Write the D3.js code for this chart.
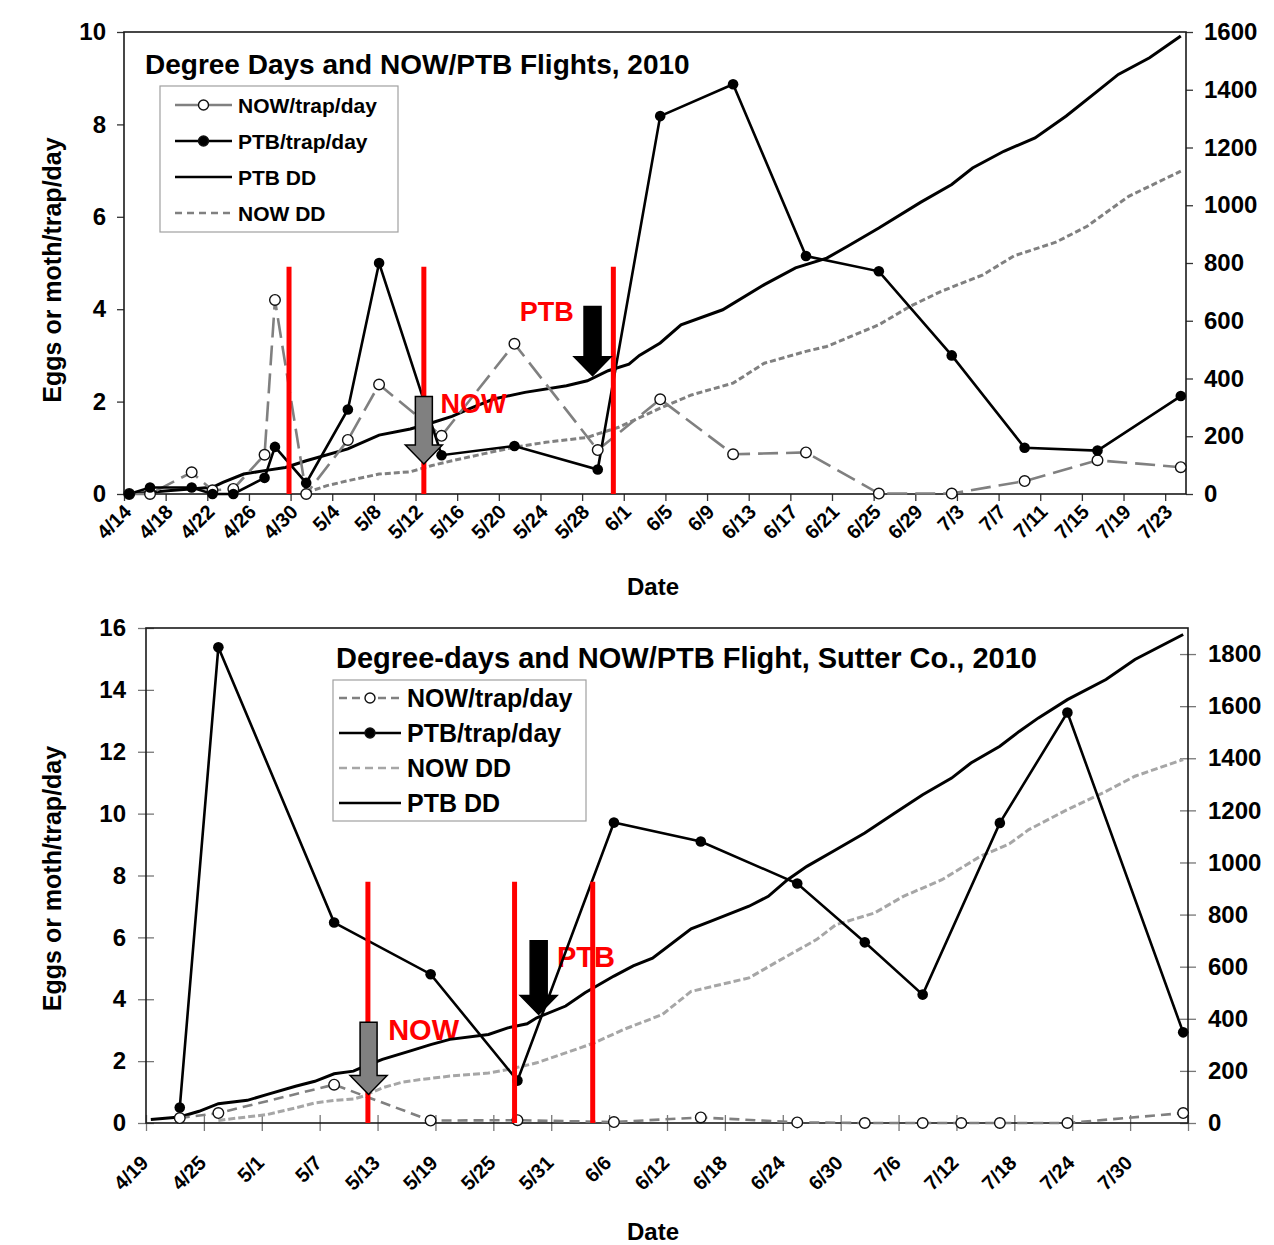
<!DOCTYPE html>
<html lang="en">
<head>
  <meta charset="utf-8" />
  <title>Degree days and NOW/PTB flights, 2010</title>
  <script src="https://cdn.jsdelivr.net/npm/d3@7"></script>
  <style>
    body { margin: 0; background: #fff; }
    svg { display: block; }
    text { font-family: "Liberation Sans", Arial, sans-serif; font-weight: bold; fill: #000; }
  </style>
</head>
<body>
<script>
  // ---- top chart: Degree Days and NOW/PTB Flights, 2010 (day 0 = 4/14) ----
  const topTickLabels = ["4/14","4/18","4/22","4/26","4/30","5/4","5/8","5/12","5/16","5/20","5/24","5/28",
    "6/1","6/5","6/9","6/13","6/17","6/21","6/25","6/29","7/3","7/7","7/11","7/15","7/19","7/23"];
  const topTrapDays = [0, 2, 6, 8, 10, 13, 14, 17, 21, 24, 30, 37, 45, 51, 58, 65, 72, 79, 86, 93, 101];
  const topNowTrap  = [0, 0, 0.47, 0.08, 0.11, 0.85, 4.2, 0, 1.17, 2.37, 1.26, 3.25, 0.95, 2.05, 0.86, 0.9, 0.01, 0.01, 0.28, 0.73, 0.58];
  const topPtbTrap  = [0, 0.14, 0.14, 0, 0, 0.35, 1.02, 0.24, 1.83, 5.0, 0.84, 1.04, 0.53, 8.18, 8.87, 5.15, 4.82, 3.0, 1.0, 0.94, 2.12];
  const topPtbDDDays = [0, 4, 8, 9, 11, 13, 15, 17, 21, 24, 27, 29, 31, 33, 35, 38, 42, 44, 46, 48, 49, 51, 53, 57,
    61, 64, 67, 69, 72, 76, 79, 81, 84, 87, 90, 93, 95, 98, 101];
  const topPtbDD = [0, 12, 23, 40, 69, 81, 92, 115, 156, 204, 225, 246, 269, 300, 329, 352, 375, 392, 427, 450, 480, 523, 586, 638,
    725, 783, 817, 858, 921, 1010, 1072, 1129, 1187, 1233, 1309, 1395, 1453, 1511, 1586];
  const topNowDDDays = [17, 19, 21, 24, 27, 29, 31, 34, 37, 40, 44, 45, 47, 48, 51, 54, 58, 61, 65, 67, 72, 75, 78, 82, 85, 89, 92, 94, 96, 101];
  const topNowDD = [5, 29, 46, 69, 77, 98, 115, 139, 162, 179, 196, 208, 231, 248, 297, 343, 384, 453, 494, 511, 586, 650, 702, 759, 825, 872, 927, 979, 1031, 1118];
  const topFlightLines = [15.85, 28.8, 47.0];

  // ---- bottom chart: Sutter Co., 2010 (day 0 = 4/19) ----
  const botTickLabels = ["4/19","4/25","5/1","5/7","5/13","5/19","5/25","5/31","6/6","6/12","6/18","6/24",
    "6/30","7/6","7/12","7/18","7/24","7/30"];
  const botPtbDays = [3, 7, 19, 29, 38, 48, 57, 67, 74, 80, 88, 95, 107];
  const botPtbTrap = [0.5, 15.38, 6.48, 4.81, 1.37, 9.71, 9.1, 7.74, 5.84, 4.15, 9.7, 13.27, 2.93];
  const botNowDays = [3, 7, 19, 29, 38, 48, 57, 67, 74, 80, 84, 88, 95, 107];
  const botNowTrap = [0.16, 0.32, 1.24, 0.08, 0.09, 0.03, 0.18, 0.02, 0, 0, 0, 0, 0, 0.32];
  const botPtbDDDays = [0, 3, 5, 7, 10, 12, 15, 17, 19, 21, 22, 24, 27, 29, 31, 35, 37, 39, 40, 43, 45, 48, 50, 52,
    56, 58, 62, 64, 66, 68, 71, 74, 77, 80, 83, 85, 88, 90, 92, 95, 99, 102, 107];
  const botPtbDD = [13, 23, 45, 74, 87, 109, 141, 160, 189, 199, 215, 244, 278, 301, 321, 340, 365, 381, 404, 449, 500, 564, 603, 633,
    745, 774, 832, 870, 934, 985, 1049, 1113, 1187, 1260, 1324, 1382, 1446, 1503, 1555, 1625, 1702, 1779, 1875];
  const botNowDDDays = [7, 9, 12, 15, 17, 19, 21, 22, 24, 26, 28, 31, 35, 37, 40, 43, 46, 49, 53, 56, 62, 65, 69, 71,
    75, 78, 82, 86, 89, 91, 95, 99, 102, 107];
  const botNowDD = [10, 19, 32, 58, 77, 87, 92, 103, 135, 156, 167, 180, 192, 205, 231, 269, 308, 359, 416, 505, 557, 621, 704, 761,
    806, 870, 934, 1024, 1072, 1126, 1203, 1273, 1331, 1395];
  const botFlightLines = [23.0, 38.2, 46.3];

  const zip = (a, b) => a.map((d, i) => [d, b[i]]);

  const svg = d3.select("body").append("svg")
      .attr("width", 1274)
      .attr("height", 1245);

  function arrowPath(cx, yTop, yTip, shaftW, headW, headL) {
    const h = yTip - headL;
    return `M${cx - shaftW/2},${yTop}L${cx + shaftW/2},${yTop}L${cx + shaftW/2},${h}L${cx + headW/2},${h}` +
           `L${cx},${yTip}L${cx - headW/2},${h}L${cx - shaftW/2},${h}Z`;
  }

  function drawChart(c) {
    const g = svg.append("g");
    const x = d3.scaleLinear([0, c.nDays], [c.left, c.right]);
    const yL = d3.scaleLinear([0, c.yMax], [c.bottom, c.top]);
    const yR = d3.scaleLinear([0, c.ddMax], [c.bottom, c.top]);
    const px = d => x(d + 0.5);   // points sit in the middle of their day

    // annotations that sit under the data
    const notes = g.append("g");

    // axes
    const left = g.append("g")
        .attr("transform", `translate(${c.left},0)`)
        .call(d3.axisLeft(yL).tickValues(d3.range(0, c.yMax + 1, c.yStep)).tickSize(c.tickOut).tickPadding(c.padL)
          .tickFormat(d3.format("d")));
    const right = g.append("g")
        .attr("transform", `translate(${c.right},0)`)
        .call(d3.axisRight(yR).tickValues(d3.range(0, c.ddTop + 1, 200)).tickSize(c.tickOut).tickPadding(c.padR)
          .tickFormat(d3.format("d")));
    const bottom = g.append("g")
        .attr("transform", `translate(0,${c.bottom})`)
        .call(d3.axisBottom(x).tickValues(d3.range(0, c.nDays + 1, c.tickStep)).tickSize(c.tickOut)
          .tickFormat((d, i) => c.tickLabels[i] || ""));

    [left, right, bottom].forEach(a => {
      a.select(".domain").remove();
      a.selectAll(".tick line").attr("stroke", c.tickColor).attr("stroke-width", 1.3);
      a.selectAll("text").style("font-size", c.tickFont + "px").attr("font-family", null);
    });
    if (c.tickIn) {
      left.selectAll(".tick line").attr("x1", c.tickIn);
      right.selectAll(".tick line").attr("x1", -c.tickIn);
      bottom.selectAll(".tick line").attr("y1", -c.tickIn);
    }
    bottom.selectAll("text")
        .style("font-size", c.xFont + "px")
        .attr("x", 0).attr("y", 0).attr("dy", "0.71em")
        .attr("text-anchor", "end")
        .attr("transform", `translate(${c.xLabDx},${c.xLabDy}) rotate(-45)`);

    g.append("rect")
        .attr("x", c.left).attr("y", c.top)
        .attr("width", c.right - c.left).attr("height", c.bottom - c.top)
        .attr("fill", "none").attr("stroke", "#1a1a1a").attr("stroke-width", 1.6);

    // titles
    g.append("text")
        .attr("x", c.titleX).attr("y", c.titleY)
        .style("font-size", c.titleFont + "px")
        .text(c.title);
    g.append("text")
        .attr("transform", `translate(52,${(c.top + c.bottom) / 2 + c.yTitleShift}) rotate(-90)`)
        .attr("text-anchor", "middle").attr("dy", "0.35em")
        .style("font-size", "25px")
        .text("Eggs or moth/trap/day");
    g.append("text")
        .attr("x", 653).attr("y", c.dateY)
        .attr("text-anchor", "middle")
        .style("font-size", "24px")
        .text("Date");

    // series
    const lineR = d3.line().x(d => px(d[0])).y(d => yR(d[1]));
    const lineL = d3.line().x(d => px(d[0])).y(d => yL(d[1]));

    g.append("path").datum(zip(c.nowDDDays, c.nowDD)).attr("d", lineR)
        .attr("fill", "none").attr("stroke", c.nowDDColor).attr("stroke-width", 3)
        .attr("stroke-dasharray", c.nowDDDash);
    g.append("path").datum(zip(c.ptbDDDays, c.ptbDD)).attr("d", lineR)
        .attr("fill", "none").attr("stroke", "#000").attr("stroke-width", 3);

    const nowPts = zip(c.nowDays, c.nowTrap);
    const ptbPts = zip(c.ptbDays, c.ptbTrap);
    g.append("path").datum(nowPts).attr("d", lineL)
        .attr("fill", "none").attr("stroke", "#808080").attr("stroke-width", 2.6)
        .attr("stroke-dasharray", c.nowTrapDash);
    g.append("path").datum(ptbPts).attr("d", lineL)
        .attr("fill", "none").attr("stroke", "#000").attr("stroke-width", 2.6);
    g.append("g").selectAll("circle").data(nowPts).join("circle")
        .attr("cx", d => px(d[0])).attr("cy", d => yL(d[1])).attr("r", 5.3)
        .attr("fill", "#fff").attr("stroke", "#111").attr("stroke-width", 1.4);
    g.append("g").selectAll("circle").data(ptbPts).join("circle")
        .attr("cx", d => px(d[0])).attr("cy", d => yL(d[1])).attr("r", 5.3)
        .attr("fill", "#000");

    // flight start lines, arrows and their labels
    g.append("g").selectAll("line").data(c.flightLines).join("line")
        .attr("x1", d => x(d)).attr("x2", d => x(d))
        .attr("y1", c.bottom).attr("y2", yL(c.flightTop))
        .attr("stroke", "#ff0000").attr("stroke-width", 5);

    c.arrows.forEach(a => {
      g.append("path")
          .attr("d", arrowPath(x(a.at), yL(a.from), yL(a.to), 17, 37, 19))
          .attr("fill", a.fill).attr("stroke", "#000").attr("stroke-width", 1.5);
      (c.labelsUnder ? notes : g).append("text")
          .attr("x", x(a.labelAt)).attr("y", yL(a.labelY))
          .style("font-size", c.noteFont + "px")
          .style("fill", "#ff0000")
          .text(a.label);
    });

    // legend
    const lg = g.append("g");
    const L = c.legend;
    lg.append("rect")
        .attr("x", L.x).attr("y", L.y).attr("width", L.w).attr("height", L.h)
        .attr("fill", "#fff").attr("stroke", "#a0a0a0").attr("stroke-width", 1.2);
    L.items.forEach((it, i) => {
      const cy = L.y + L.row0 + i * L.step;
      lg.append("line")
          .attr("x1", L.x + L.lx0).attr("x2", L.x + L.lx1).attr("y1", cy).attr("y2", cy)
          .attr("stroke", it.color).attr("stroke-width", it.width)
          .attr("stroke-dasharray", it.dash);
      if (it.marker) {
        lg.append("circle")
            .attr("cx", L.x + (L.lx0 + L.lx1) / 2).attr("cy", cy).attr("r", 5)
            .attr("fill", it.marker === "open" ? "#fff" : "#000")
            .attr("stroke", "#111").attr("stroke-width", 1.4);
      }
      lg.append("text")
          .attr("x", L.x + L.tx).attr("y", cy).attr("dy", "0.36em")
          .style("font-size", L.font + "px")
          .text(it.name);
    });
  }

  drawChart({
    left: 124, right: 1186, top: 32, bottom: 494, nDays: 102, tickStep: 4, tickLabels: topTickLabels,
    yMax: 10, yStep: 2, ddMax: 1600, ddTop: 1600,
    tickOut: 7, tickIn: 0, tickColor: "#333", padL: 11, padR: 11, tickFont: 24,
    xFont: 20, xLabDx: -2, xLabDy: 9,
    title: "Degree Days and NOW/PTB Flights, 2010", titleX: 145, titleY: 74, titleFont: 28,
    yTitleShift: 7, dateY: 595,
    nowDays: topTrapDays, nowTrap: topNowTrap, ptbDays: topTrapDays, ptbTrap: topPtbTrap,
    ptbDDDays: topPtbDDDays, ptbDD: topPtbDD, nowDDDays: topNowDDDays, nowDD: topNowDD,
    nowDDColor: "#808080", nowDDDash: "6,3", nowTrapDash: "20,8",
    flightLines: topFlightLines, flightTop: 4.92, noteFont: 27, labelsUnder: false,
    arrows: [
      {at: 28.8, from: 2.11, to: 0.65, fill: "#808080", label: "NOW", labelAt: 30.4, labelY: 1.75},
      {at: 45.0, from: 4.06, to: 2.56, fill: "#000", label: "PTB", labelAt: 38.0, labelY: 3.74}
    ],
    legend: {
      x: 160, y: 86, w: 238, h: 146, row0: 19, step: 36, lx0: 15, lx1: 72, tx: 78, font: 21,
      items: [
        {name: "NOW/trap/day", color: "#808080", width: 2.4, dash: null, marker: "open"},
        {name: "PTB/trap/day", color: "#000", width: 2.6, dash: null, marker: "filled"},
        {name: "PTB DD", color: "#000", width: 2.6, dash: null},
        {name: "NOW DD", color: "#808080", width: 2.6, dash: "7,5"}
      ]
    }
  });

  drawChart({
    left: 146, right: 1188, top: 628, bottom: 1123, nDays: 108, tickStep: 6, tickLabels: botTickLabels,
    yMax: 16, yStep: 2, ddMax: 1900, ddTop: 1800,
    tickOut: 8, tickIn: 8, tickColor: "#777", padL: 12, padR: 12, tickFont: 24,
    xFont: 20, xLabDx: -7, xLabDy: 31,
    title: "Degree-days and NOW/PTB Flight, Sutter Co., 2010", titleX: 336, titleY: 668, titleFont: 29,
    yTitleShift: 3, dateY: 1240,
    nowDays: botNowDays, nowTrap: botNowTrap, ptbDays: botPtbDays, ptbTrap: botPtbTrap,
    ptbDDDays: botPtbDDDays, ptbDD: botPtbDD, nowDDDays: botNowDDDays, nowDD: botNowDD,
    nowDDColor: "#a6a6a6", nowDDDash: "7,3", nowTrapDash: "10,6",
    flightLines: botFlightLines, flightTop: 7.8, noteFont: 29, labelsUnder: true,
    arrows: [
      {at: 23.07, from: 3.26, to: 0.92, fill: "#808080", label: "NOW", labelAt: 25.1, labelY: 2.68},
      {at: 40.7, from: 5.89, to: 3.51, fill: "#000", label: "PTB", labelAt: 42.6, labelY: 5.04}
    ],
    legend: {
      x: 333, y: 680, w: 253, h: 141, row0: 18, step: 35, lx0: 6, lx1: 68, tx: 74, font: 25,
      items: [
        {name: "NOW/trap/day", color: "#808080", width: 2.4, dash: "8,5", marker: "open"},
        {name: "PTB/trap/day", color: "#000", width: 2.6, dash: null, marker: "filled"},
        {name: "NOW DD", color: "#a6a6a6", width: 2.6, dash: "8,5"},
        {name: "PTB DD", color: "#000", width: 2.6, dash: null}
      ]
    }
  });
</script>
</body>
</html>
